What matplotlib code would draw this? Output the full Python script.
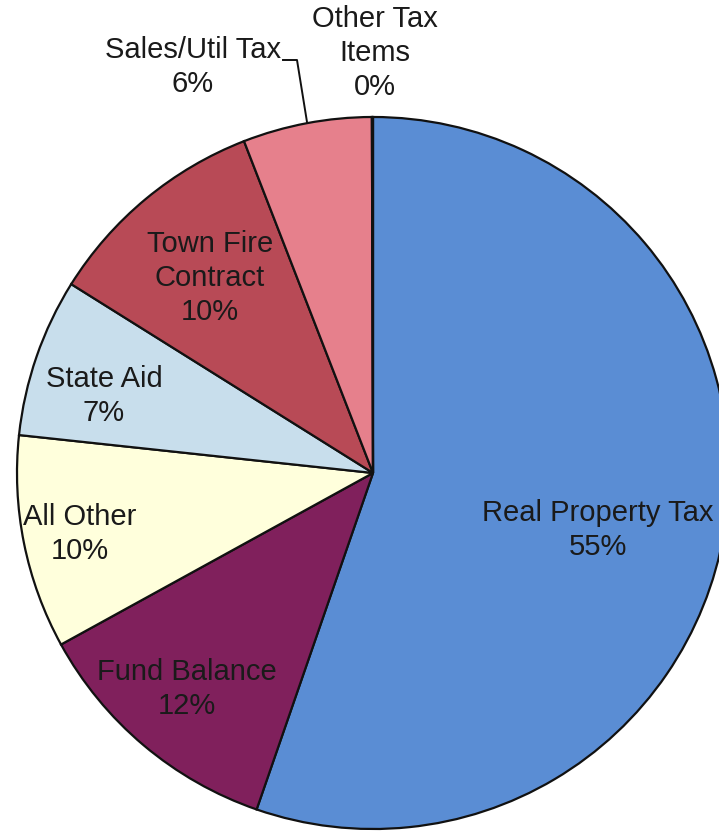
import numpy as np
import matplotlib.pyplot as plt

# revenue sources, clockwise from 12 o'clock
sources = ['Real Property Tax', 'Fund Balance', 'All Other', 'State Aid',
           'Town Fire\nContract', 'Sales/Util Tax', 'Other Tax\nItems']
shares = [55.3, 11.7, 9.7, 7.2, 10.2, 5.85, 0.05]
colors = ['#5A8DD4', '#80205C', '#FFFFDC', '#C8DEEC', '#B84A56', '#E6808C', '#F0A0A8']

# label anchor points in pixels (origin top-left)
label_xy = [(598, 530), (187, 689), (80, 534), (104, 396),
            (210, 278), (193, 67), (375, 53)]

W, H = 719, 833
fig = plt.figure(figsize=(W / 100, H / 100), dpi=100)
ax = fig.add_axes([0, 0, 1, 1])

cx, cy, r = 373, H - 473, 356
ax.pie(shares, colors=colors, startangle=90, counterclock=False,
       center=(cx, cy), radius=r, frame=True,
       wedgeprops=dict(edgecolor='#111111', linewidth=1.6))
ax.set_xlim(0, W)
ax.set_ylim(0, H)
ax.set_aspect('equal')
ax.axis('off')

total = sum(shares)
for name, v, (px, py) in zip(sources, shares, label_xy):
    pct = int(round(100 * v / total))
    ax.text(px, H - py, f'{name}\n{pct}%', ha='center', va='center',
            fontsize=21, family='Liberation Sans', color='#1a1a1a',
            linespacing=1.27)

# leader line for the small sales/util slice
ax.plot([283, 297, 307], [H - 60, H - 60, H - 122], color='#111111', lw=1.4)

fig.savefig('out.png', dpi=100)
